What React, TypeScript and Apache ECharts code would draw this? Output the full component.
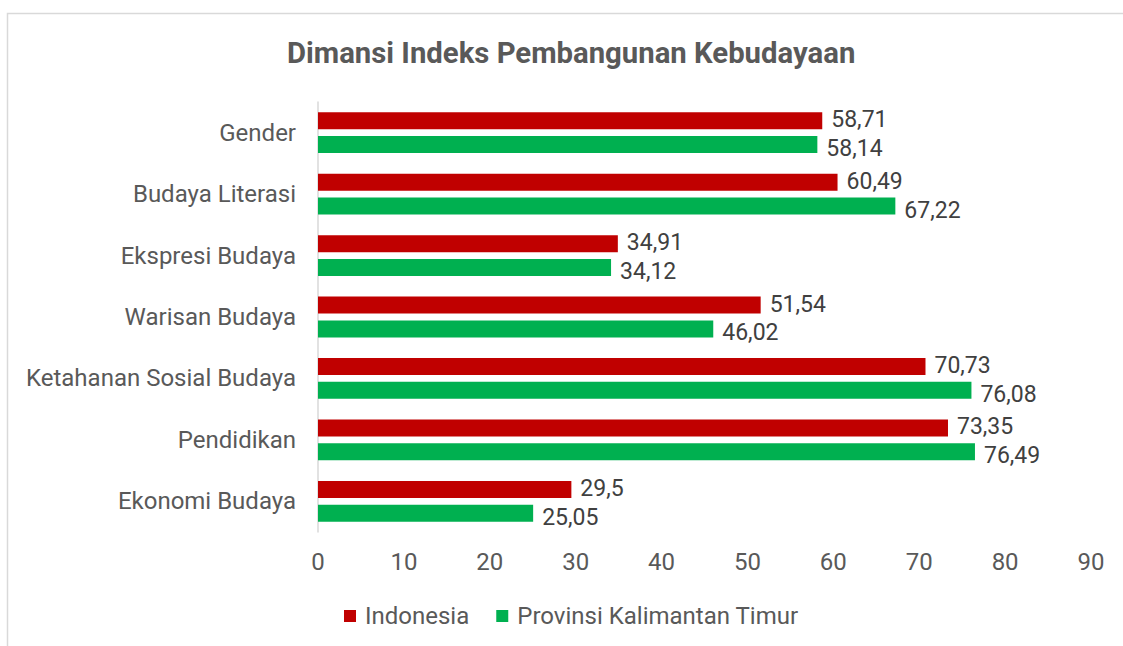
import React, { useEffect, useRef } from "react";
import * as echarts from "echarts";

const categories = [
  "Gender",
  "Budaya Literasi",
  "Ekspresi Budaya",
  "Warisan Budaya",
  "Ketahanan Sosial Budaya",
  "Pendidikan",
  "Ekonomi Budaya",
];
const indonesia = [58.71, 60.49, 34.91, 51.54, 70.73, 73.35, 29.5];
const kaltim = [58.14, 67.22, 34.12, 46.02, 76.08, 76.49, 25.05];
const seriesNames = ["Indonesia", "Provinsi Kalimantan Timur"];
const title = "Dimansi Indeks Pembangunan Kebudayaan";

const fmt = (v: number) => String(v).replace(".", ",");

export default function App() {
  const ref = useRef<HTMLDivElement>(null);
  useEffect(() => {
    const chart = echarts.init(ref.current!, null, { renderer: "svg" });
    const font = "Roboto";
    chart.setOption({
      animation: false,
      backgroundColor: "#ffffff",
      title: {
        text: title,
        left: 282,
        top: 33,
        textStyle: { fontFamily: font, fontSize: 29.3, fontWeight: "bold", color: "#595959" },
      },
      legend: {
        bottom: 13,
        left: 339,
        itemWidth: 12,
        itemHeight: 12,
        itemGap: 27,
        icon: "rect",
        textStyle: { fontFamily: font, fontSize: 24, color: "#595959", padding: [0, 0, 0, 4] },
        data: seriesNames,
      },
      graphic: [
        {
          type: "rect",
          shape: { x: 7.5, y: 13.5, width: 1200, height: 700 },
          style: { fill: "none", stroke: "#d9d9d9", lineWidth: 1.5 },
          silent: true,
        },
      ],
      grid: { left: 318, right: 32, top: 102, bottom: 114, containLabel: false },
      xAxis: {
        type: "value",
        min: 0,
        max: 90,
        interval: 10,
        axisLine: { show: false },
        axisTick: { show: false },
        splitLine: { show: false },
        axisLabel: { fontFamily: font, fontSize: 24, color: "#595959", margin: 18 },
      },
      yAxis: {
        type: "category",
        inverse: true,
        data: categories,
        axisLine: { show: true, lineStyle: { color: "#d9d9d9", width: 1.5 } },
        axisTick: { show: false },
        axisLabel: { fontFamily: font, fontSize: 24, color: "#595959", margin: 22 },
      },
      series: [
        {
          name: seriesNames[0],
          type: "bar",
          data: indonesia,
          barWidth: 17,
          barGap: "40%",
          itemStyle: { color: "#c00000" },
          label: {
            show: true,
            position: "right",
            distance: 9,
            offset: [0, -1],
            formatter: (p: any) => fmt(p.value),
            fontFamily: font,
            fontSize: 23,
            color: "#404040",
          },
        },
        {
          name: seriesNames[1],
          type: "bar",
          data: kaltim,
          barWidth: 17,
          itemStyle: { color: "#00b050" },
          label: {
            show: true,
            position: "right",
            distance: 9,
            offset: [0, 4],
            formatter: (p: any) => fmt(p.value),
            fontFamily: font,
            fontSize: 23,
            color: "#404040",
          },
        },
      ],
    });
    return () => chart.dispose();
  }, []);
  return <div ref={ref} style={{ width: 1123, height: 646, position: "absolute", left: 0, top: 0 }} />;
}
